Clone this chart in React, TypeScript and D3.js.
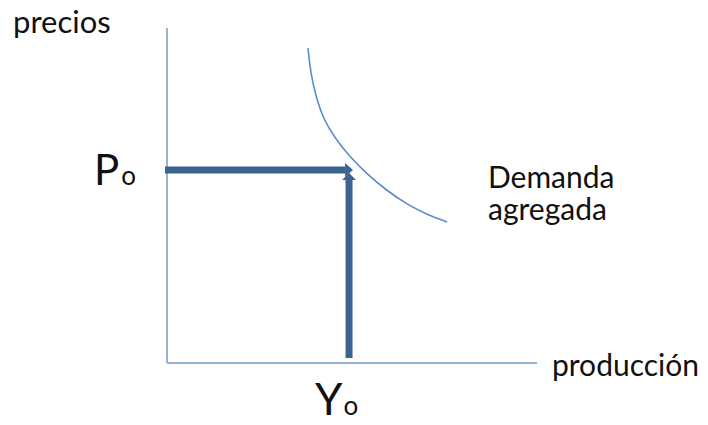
import { useEffect, useRef } from "react";
import * as d3 from "d3";

// demand curve (output, price)
const demandX = [3.81, 3.89, 4.03, 4.24, 4.54, 4.92, 5.38, 5.92, 6.51, 7.05, 7.57];
const demandY = [9.4, 8.6, 7.94, 7.25, 6.72, 6.18, 5.67, 5.16, 4.72, 4.42, 4.21];

// equilibrium point
const Y0 = 4.92;
const P0 = 5.76;

const axisLabels = ["precios", "producción"];
const curveLabel = ["Demanda", "agregada"];

const width = 708;
const height = 425;

function App() {
  const ref = useRef<SVGSVGElement>(null);

  const x = d3.scaleLinear().domain([0, 10]).range([167, 537]);
  const y = d3.scaleLinear().domain([0, 10]).range([363, 28]);

  const pts: [number, number][] = demandX.map((d, i) => [d, demandY[i]]);
  const line = d3
    .line<[number, number]>()
    .x((d) => x(d[0]))
    .y((d) => y(d[1]))
    .curve(d3.curveBasis);

  useEffect(() => {
    const svg = d3.select(ref.current);
    svg.selectAll("*").remove();
    const font = "Lato, 'Open Sans', sans-serif";
    const ink = "#111";

    // axes
    svg
      .append("line")
      .attr("x1", x(0)).attr("x2", x(0))
      .attr("y1", y(0)).attr("y2", y(10))
      .attr("stroke", "#95b3d7").attr("stroke-width", 2);
    svg
      .append("line")
      .attr("x1", x(0)).attr("x2", x(10))
      .attr("y1", y(0)).attr("y2", y(0))
      .attr("stroke", "#95b3d7").attr("stroke-width", 2);

    // demand curve
    svg
      .append("path")
      .attr("d", line(pts))
      .attr("fill", "none")
      .attr("stroke", "#5b8bcf")
      .attr("stroke-width", 1.6);

    const dark = "#3d6391";
    // horizontal arrow from price axis
    const hx = x(Y0) - 4;
    svg
      .append("line")
      .attr("x1", x(0) - 2).attr("x2", hx)
      .attr("y1", y(P0)).attr("y2", y(P0))
      .attr("stroke", dark).attr("stroke-width", 7);
    svg
      .append("path")
      .attr("d", `M${hx},${y(P0) - 7}L${hx + 8},${y(P0)}L${hx},${y(P0) + 7}Z`)
      .attr("fill", dark);

    // vertical arrow up from output axis
    const vy = y(P0) + 10;
    svg
      .append("line")
      .attr("x1", x(Y0)).attr("x2", x(Y0))
      .attr("y1", y(0) - 5).attr("y2", vy)
      .attr("stroke", dark).attr("stroke-width", 7);
    svg
      .append("path")
      .attr("d", `M${x(Y0) - 7},${vy}L${x(Y0)},${vy - 7}L${x(Y0) + 7},${vy}Z`)
      .attr("fill", dark);

    // axis titles
    svg
      .append("text")
      .attr("x", 13).attr("y", 33)
      .attr("font-family", font).attr("font-size", 31).attr("fill", ink)
      .text(axisLabels[0]);
    svg
      .append("text")
      .attr("x", 552).attr("y", 376)
      .attr("font-family", font).attr("font-size", 30).attr("fill", ink)
      .text(axisLabels[1]);

    // curve label
    curveLabel.forEach((t, i) => {
      svg
        .append("text")
        .attr("x", 488).attr("y", 188 + i * 32)
        .attr("font-family", font).attr("font-size", 30).attr("fill", ink)
        .text(t);
    });

    // P0 and Y0 labels
    const p = svg
      .append("text")
      .attr("x", 94).attr("y", y(P0) + 15)
      .attr("font-family", font).attr("fill", ink);
    p.append("tspan").attr("font-size", 42).text("P");
    p.append("tspan").attr("font-size", 26).attr("dx", 2).text("o");

    const yl = svg
      .append("text")
      .attr("x", 315).attr("y", 415)
      .attr("font-family", font).attr("fill", ink);
    yl.append("tspan").attr("font-size", 44).text("Y");
    yl.append("tspan").attr("font-size", 26).attr("dx", 1).text("o");
  }, []);

  return (
    <div style={{ position: "absolute", left: 0, top: 0 }}>
      <svg ref={ref} width={width} height={height} style={{ display: "block", background: "#fff" }} />
    </div>
  );
}

export default App;
